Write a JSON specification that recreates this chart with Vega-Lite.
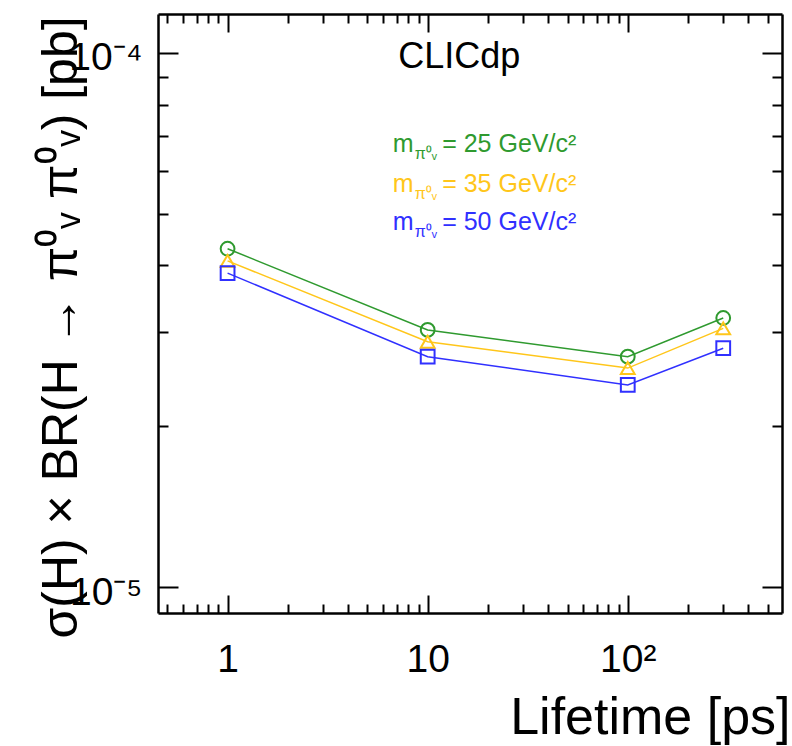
{
  "$schema": "https://vega.github.io/schema/vega-lite/v6.json",
  "width": 624,
  "height": 599,
  "autosize": {"type": "none"},
  "padding": {"left": 158, "top": 14, "right": 10, "bottom": 133},
  "background": "white",
  "config": {
    "view": {"stroke": null},
    "font": "Liberation Sans",
    "axis": {
      "grid": false,
      "domainColor": "black",
      "domainWidth": 2.5,
      "tickColor": "black",
      "tickWidth": 2,
      "labelColor": "black",
      "titleColor": "black",
      "labelFont": "Liberation Sans",
      "titleFont": "Liberation Sans",
      "titleFontWeight": "normal",
      "labelOverlap": false,
      "labelFlush": false
    }
  },
  "datasets": {
    "pts": [
      {"lifetime": 1, "xs": 4.30e-5, "mass": "25"},
      {"lifetime": 10, "xs": 3.03e-5, "mass": "25"},
      {"lifetime": 100, "xs": 2.70e-5, "mass": "25"},
      {"lifetime": 300, "xs": 3.19e-5, "mass": "25"},
      {"lifetime": 1, "xs": 4.08e-5, "mass": "35"},
      {"lifetime": 10, "xs": 2.88e-5, "mass": "35"},
      {"lifetime": 100, "xs": 2.57e-5, "mass": "35"},
      {"lifetime": 300, "xs": 3.05e-5, "mass": "35"},
      {"lifetime": 1, "xs": 3.87e-5, "mass": "50"},
      {"lifetime": 10, "xs": 2.70e-5, "mass": "50"},
      {"lifetime": 100, "xs": 2.39e-5, "mass": "50"},
      {"lifetime": 300, "xs": 2.80e-5, "mass": "50"}
    ],
    "leg": [
      {"mass": "25", "label": "= 25 GeV/c²"},
      {"mass": "35", "label": "= 35 GeV/c²"},
      {"mass": "50", "label": "= 50 GeV/c²"}
    ]
  },
  "layer": [
    {
      "data": {"name": "pts"},
      "mark": {"type": "line", "strokeWidth": 1.5},
      "encoding": {
        "x": {
          "field": "lifetime",
          "type": "quantitative",
          "scale": {"type": "log", "domain": [0.449, 590], "nice": false},
          "axis": {
            "orient": "bottom",
            "values": [1, 10, 100],
            "labelExpr": "datum.value < 5 ? '1' : datum.value < 50 ? '10' : '10²'",
            "labelFontSize": 39,
            "labelBaseline": "top",
            "labelPadding": 45,
            "tickSize": -18,
            "domain": true,
            "title": "Lifetime [ps]",
            "titleFontSize": 52,
            "titleAlign": "right",
            "titleBaseline": "alphabetic",
            "titleX": 632,
            "titleY": 120
          }
        },
        "y": {
          "field": "xs",
          "type": "quantitative",
          "scale": {"type": "log", "domain": [8.94e-6, 1.183e-4], "nice": false},
          "axis": {
            "orient": "left",
            "values": [1e-5, 1e-4],
            "labelExpr": "datum.value > 5e-5 ? '10⁻⁴' : '10⁻⁵'",
            "labelFontSize": 39,
            "labelBaseline": "middle",
            "labelAlign": "right",
            "labelPadding": 36,
            "labelOffset": 5,
            "tickSize": -20,
            "domain": true,
            "title": "σ(H) × BR(H → π⁰ᵥ π⁰ᵥ) [pb]",
            "titleFontSize": 50,
            "titleAngle": -90,
            "titleAlign": "center",
            "titleBaseline": "alphabetic",
            "titleX": -82,
            "titleY": 313
          }
        },
        "color": {
          "field": "mass",
          "type": "nominal",
          "scale": {"domain": ["25", "35", "50"], "range": ["#2f9a2f", "#ffc61a", "#3030ff"]},
          "legend": null
        }
      }
    },
    {
      "data": {"name": "pts"},
      "mark": {"type": "point", "filled": false, "size": 190, "strokeWidth": 2, "opacity": 1},
      "encoding": {
        "x": {
          "field": "lifetime",
          "type": "quantitative",
          "axis": {
            "orient": "bottom",
            "values": [0.5, 0.6, 0.7, 0.8, 0.9, 2, 3, 4, 5, 6, 7, 8, 9, 20, 30, 40, 50, 60, 70, 80, 90, 200, 300, 400, 500],
            "labels": false,
            "tickSize": -9,
            "domain": false,
            "title": null
          }
        },
        "y": {
          "field": "xs",
          "type": "quantitative",
          "axis": {
            "orient": "left",
            "values": [2e-5, 3e-5, 4e-5, 5e-5, 6e-5, 7e-5, 8e-5, 9e-5],
            "labels": false,
            "tickSize": -10,
            "domain": false,
            "title": null
          }
        },
        "color": {"field": "mass", "type": "nominal", "legend": null},
        "shape": {
          "field": "mass",
          "type": "nominal",
          "scale": {"domain": ["25", "35", "50"], "range": ["circle", "triangle-up", "square"]},
          "legend": null
        }
      }
    },
    {
      "data": {"name": "leg"},
      "mark": {
        "type": "text",
        "align": "left",
        "baseline": "alphabetic",
        "fontSize": 25,
        "dx": 14.5,
        "dy": {"expr": "datum.mass == '25' ? 0 : datum.mass == '35' ? 40 : 78"}
      },
      "encoding": {
        "x": {
          "datum": 10,
          "type": "quantitative",
          "axis": {
            "orient": "top",
            "values": [1, 10, 100],
            "labels": false,
            "tickSize": -18,
            "domain": true,
            "title": null
          }
        },
        "y": {
          "datum": 6.53e-5,
          "type": "quantitative",
          "axis": {
            "orient": "right",
            "values": [1e-5, 1e-4],
            "labels": false,
            "tickSize": -20,
            "domain": true,
            "title": null
          }
        },
        "text": {"field": "label"},
        "color": {"field": "mass", "type": "nominal", "legend": null}
      }
    },
    {
      "data": {"name": "leg"},
      "mark": {
        "type": "text",
        "align": "right",
        "baseline": "alphabetic",
        "fontSize": 25,
        "dx": -14,
        "dy": {"expr": "datum.mass == '25' ? 0 : datum.mass == '35' ? 40 : 78"}
      },
      "encoding": {
        "x": {
          "datum": 10,
          "type": "quantitative",
          "axis": {
            "orient": "top",
            "values": [0.5, 0.6, 0.7, 0.8, 0.9, 2, 3, 4, 5, 6, 7, 8, 9, 20, 30, 40, 50, 60, 70, 80, 90, 200, 300, 400, 500],
            "labels": false,
            "tickSize": -9,
            "domain": false,
            "title": null
          }
        },
        "y": {
          "datum": 6.53e-5,
          "type": "quantitative",
          "axis": {
            "orient": "right",
            "values": [2e-5, 3e-5, 4e-5, 5e-5, 6e-5, 7e-5, 8e-5, 9e-5],
            "labels": false,
            "tickSize": -10,
            "domain": false,
            "title": null
          }
        },
        "text": {"value": "m"},
        "color": {"field": "mass", "type": "nominal", "legend": null}
      }
    },
    {
      "data": {"name": "leg"},
      "mark": {
        "type": "text",
        "align": "left",
        "baseline": "alphabetic",
        "fontSize": 16,
        "dx": -13,
        "dy": {"expr": "datum.mass == '25' ? 7 : datum.mass == '35' ? 47 : 85"}
      },
      "encoding": {
        "x": {"datum": 10, "type": "quantitative", "axis": null},
        "y": {"datum": 6.53e-5, "type": "quantitative", "axis": null},
        "text": {"value": "π⁰ᵥ"},
        "color": {"field": "mass", "type": "nominal", "legend": null}
      }
    },
    {
      "data": {"values": [{"label": "CLICdp"}]},
      "mark": {"type": "text", "align": "center", "baseline": "alphabetic", "fontSize": 36, "color": "black"},
      "encoding": {
        "x": {"datum": 14.37, "type": "quantitative", "axis": null},
        "y": {"datum": 9.37e-5, "type": "quantitative", "axis": null},
        "text": {"field": "label"}
      }
    }
  ],
  "resolve": {"axis": {"x": "independent", "y": "independent"}}
}
